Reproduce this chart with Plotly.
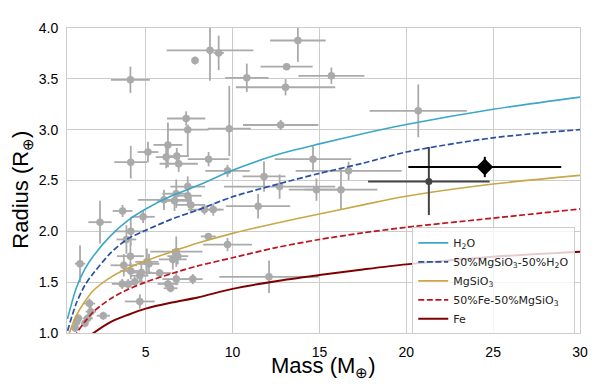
import plotly.graph_objects as go

# ---- model curves ----
curve_mass   = [0.5, 1, 1.5, 2, 3, 4, 5, 6.5, 8, 10, 12.5, 15, 17.5, 20, 25, 30]
r_h2o        = [1.14, 1.44, 1.63, 1.76, 1.96, 2.11, 2.22, 2.35, 2.45, 2.60, 2.75, 2.86, 2.96, 3.05, 3.20, 3.32]
r_mgsio3_h2o = [1.02, 1.29, 1.47, 1.59, 1.79, 1.93, 2.01, 2.12, 2.21, 2.34, 2.46, 2.57, 2.67, 2.78, 2.92, 3.00]
r_mgsio3     = [0.95, 1.17, 1.31, 1.42, 1.55, 1.64, 1.71, 1.80, 1.885, 1.98, 2.08, 2.17, 2.26, 2.345, 2.465, 2.55]
r_fe_mgsio3  = [0.80, 0.99, 1.11, 1.21, 1.34, 1.43, 1.50, 1.585, 1.66, 1.74, 1.84, 1.92, 1.985, 2.04, 2.13, 2.22]
r_fe         = [0.70, 0.86, 0.93, 1.00, 1.11, 1.18, 1.24, 1.30, 1.35, 1.434, 1.51, 1.57, 1.625, 1.675, 1.75, 1.80]

# ---- known planets (grey) ----
pl_mass = [4.12, 7.84, 7.33, 7.42, 6.28, 5.13, 4.14, 6.18, 6.79, 6.9, 8.62, 8.70, 9.2, 10.82, 13.11,
           13.76, 13.05, 15.69, 9.81, 12.77, 9.71, 14.63, 11.81, 16.68, 14.83, 16.24, 12.71, 11.47,
           8.38, 8.89, 8.6, 9.71, 12.1, 7.71, 20.69, 1.22, 2.37, 3.67, 4.85, 4.14, 3.89, 4.12, 3.74,
           4.14, 3.65, 3.99, 4.37, 4.66, 5.07, 5.19, 4.75, 4.66, 5.8, 6.28, 6.76, 6.43, 6.76, 6.56,
           6.85, 1.76, 1.84, 2.56, 1.66, 1.12, 1.03, 0.94, 1.5, 6.05, 6.66, 6.76, 7.42, 7.42, 7.6]
pl_radius = [3.49, 3.68, 3.11, 3.00, 2.85, 2.78, 2.68, 2.73, 2.74, 2.665, 2.71, 3.78, 3.755, 3.51, 3.62,
             3.877, 3.417, 3.53, 3.01, 3.046, 2.595, 2.71, 2.54, 2.595, 2.41, 2.41, 2.44, 2.247,
             2.214, 2.214, 1.95, 1.87, 1.553, 1.53, 3.185, 1.682, 2.09, 2.20, 2.143, 2.0, 1.92, 1.756, 1.666,
             1.61, 1.483, 1.48, 1.505, 1.563, 1.70, 1.68, 1.595, 1.31, 1.59, 1.483, 1.53, 1.44, 1.80, 1.724,
             1.756, 1.29, 1.21, 1.17, 1.144, 1.144, 1.11, 1.05, 1.096, 2.31, 2.30, 2.37, 2.44, 2.35, 2.26]
pl_mass_err = [1.12, 0.2, 1.1, 1.2, 0.83, 0.6, 0.95, 0.6, 0.7, 1.1, 1.2, 2.5, 0.3, 1.25, 1.5,
               1.6, 2.86, 1.9, 1.24, 2.17, 1.28, 2.2, 1.24, 3.05, 1.6, 2.1, 3.2, 1.85,
               0.95, 0.6, 0.43, 1.4, 2.86, 0.57, 2.8, 0.3, 0.67, 0.57, 0.67, 0.97, 0.57, 0.77, 0.76,
               0.6, 0.6, 0.5, 0.5, 0.5, 0.67, 0.6, 0.6, 0.86, 0.67, 0.6, 0.8, 0.4, 1.5, 0.8,
               0.6, 0.33, 0.3, 0.38, 0.3, 0.2, 0.2, 0.2, 0.2, 1.5, 1.0, 0.8, 1.0, 0.8, 0.8]
pl_rad_err_up = [0.13, 0.04, 0.07, 0.05, 0.22, 0.1, 0.16, 0.11, 0.08, 0.08, 0.07, 0.3, 0.17, 0.14, 0.03,
                 0.21, 0.08, 0.08, 0.42, 0.05, 0.06, 0.13, 0.15, 0.09, 0.11, 0.2, 0.12, 0.12,
                 0.05, 0.06, 0.03, 0.065, 0.16, 0.05, 0.26, 0.18, 0.21, 0.06, 0.06, 0.14, 0.14, 0.13, 0.11,
                 0.08, 0.05, 0.05, 0.05, 0.06, 0.13, 0.1, 0.1, 0.07, 0.04, 0.05, 0.06, 0.04, 0.15, 0.1,
                 0.08, 0.05, 0.05, 0.04, 0.04, 0.04, 0.04, 0.04, 0.04, 0.1, 0.1, 0.14, 0.1, 0.1, 0.08]
pl_rad_err_dn = [0.13, 0.04, 0.07, 0.26, 0.22, 0.1, 0.16, 0.11, 0.08, 0.08, 0.07, 0.3, 0.17, 0.14, 0.03,
                 0.21, 0.08, 0.08, 0.27, 0.05, 0.06, 0.13, 0.15, 0.09, 0.11, 0.2, 0.12, 0.12,
                 0.05, 0.06, 0.03, 0.065, 0.16, 0.05, 0.26, 0.18, 0.21, 0.06, 0.06, 0.14, 0.14, 0.13, 0.11,
                 0.08, 0.05, 0.05, 0.05, 0.06, 0.13, 0.1, 0.1, 0.07, 0.04, 0.05, 0.06, 0.04, 0.15, 0.1,
                 0.08, 0.05, 0.05, 0.04, 0.04, 0.04, 0.04, 0.04, 0.04, 0.1, 0.1, 0.14, 0.1, 0.1, 0.08]

# ---- highlighted planets ----
hl1_mass, hl1_radius, hl1_mass_err, hl1_rad_err_up, hl1_rad_err_dn = [21.3], [2.49], [3.5], [0.34], [0.33]
hl2_mass, hl2_radius, hl2_mass_err, hl2_rad_err = [24.52], [2.633], [4.4], [0.1]

curve_names = ["H<sub>2</sub>O", "50%MgSiO<sub>3</sub>-50%H<sub>2</sub>O", "MgSiO<sub>3</sub>",
               "50%Fe-50%MgSiO<sub>3</sub>", "Fe"]
curve_vals = [r_h2o, r_mgsio3_h2o, r_mgsio3, r_fe_mgsio3, r_fe]
curve_colors = ["#3ba7c9", "#2a50a3", "#c9a746", "#c0121c", "#7f0000"]
curve_dash = ["solid", "6px,2.6px", "solid", "6px,2.6px", "solid"]
curve_width = [1.6, 1.7, 1.6, 1.7, 2.0]

fig = go.Figure()

grey = "#aaaaaa"
fig.add_trace(go.Scatter(
    x=pl_mass, y=pl_radius, mode="markers", showlegend=False,
    marker=dict(color=grey, size=7.5),
    error_x=dict(type="data", array=pl_mass_err, color=grey, thickness=1.8, width=0),
    error_y=dict(type="data", array=pl_rad_err_up, arrayminus=pl_rad_err_dn, symmetric=False,
                 color=grey, thickness=1.8, width=0),
))

for name, vals, col, dash, w in zip(curve_names, curve_vals, curve_colors, curve_dash, curve_width):
    fig.add_trace(go.Scatter(x=curve_mass, y=vals, mode="lines", name=name,
                             line=dict(color=col, dash=dash, width=w, shape="spline", smoothing=0.8)))

fig.add_trace(go.Scatter(
    x=hl1_mass, y=hl1_radius, mode="markers", showlegend=False,
    marker=dict(color="#444444", size=7),
    error_x=dict(type="data", array=hl1_mass_err, color="#444444", thickness=2, width=0),
    error_y=dict(type="data", array=hl1_rad_err_up, arrayminus=hl1_rad_err_dn, symmetric=False,
                 color="#444444", thickness=2, width=0),
))
fig.add_trace(go.Scatter(
    x=hl2_mass, y=hl2_radius, mode="markers", showlegend=False,
    marker=dict(color="black", size=13, symbol="diamond"),
    error_x=dict(type="data", array=hl2_mass_err, color="black", thickness=2, width=0),
    error_y=dict(type="data", array=hl2_rad_err, color="black", thickness=2, width=0),
))

axis_common = dict(showgrid=True, gridcolor="#cccccc", gridwidth=1, showline=True, linecolor="#cccccc",
                   linewidth=1, mirror=True, zeroline=False, ticks="outside", tickcolor="rgba(0,0,0,0)",
                   tickfont=dict(family="Liberation Sans, Arial", size=14, color="black"))

title_font = dict(family="Liberation Sans, Arial", size=22, color="black")

# page body has an 8px default margin: figure is sized/margined so the plot area sits at 67..583 x 23..333
fig.update_layout(
    width=592, height=373,
    margin=dict(l=59, r=17, t=15, b=48),
    plot_bgcolor="white", paper_bgcolor="white",
    xaxis=dict(range=[0.47, 30], tickvals=[5, 10, 15, 20, 25, 30], ticklen=6, **axis_common),
    yaxis=dict(range=[1.0, 4.0], dtick=0.5, tickformat=".1f", ticklen=5, **axis_common),
    legend=dict(x=0.673, y=0.171, xanchor="left", yanchor="middle",
                bgcolor="rgba(255,255,255,0.8)", bordercolor="#cccccc", borderwidth=1,
                font=dict(family="DejaVu Sans", size=11, color="#222222"),
                tracegroupgap=0, itemwidth=30),
    annotations=[
        dict(text="Mass (M<sub>⊕</sub>)", xref="paper", yref="paper", x=0.5, y=-0.112,
             xanchor="center", yanchor="middle", showarrow=False, font=title_font),
        dict(text="Radius (R<sub>⊕</sub>)", xref="paper", yref="paper", x=-0.087, y=0.471,
             xanchor="center", yanchor="middle", textangle=-90, showarrow=False, font=title_font),
    ],
)

fig.write_html("out.html")
